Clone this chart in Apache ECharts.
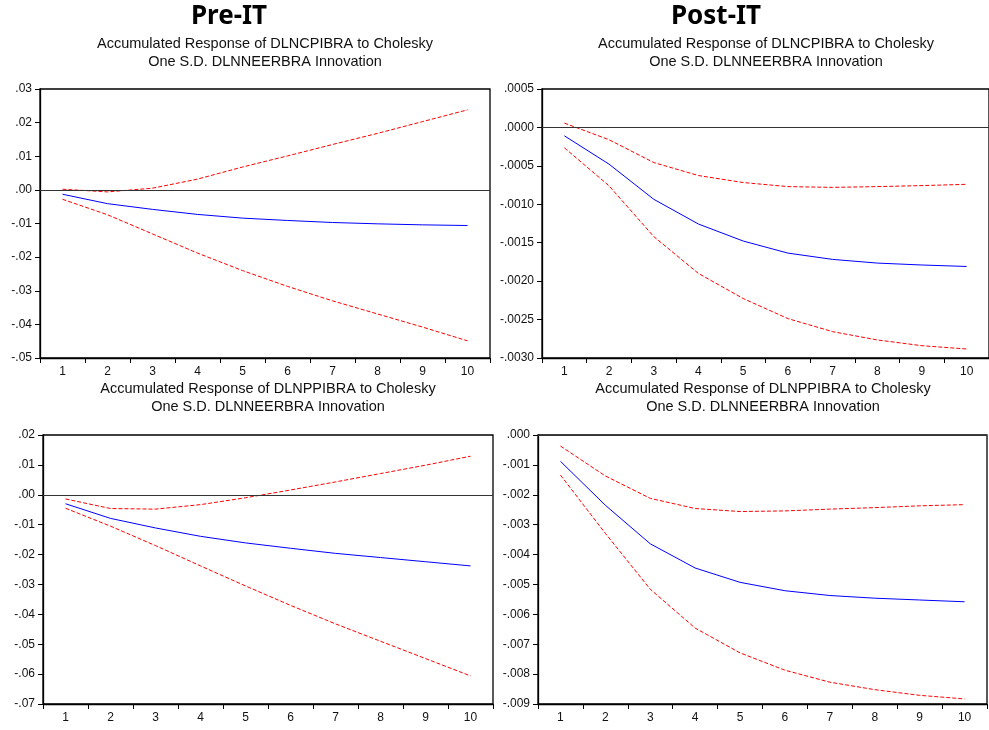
<!DOCTYPE html>
<html>
<head>
<meta charset="utf-8">
<script src="https://cdn.jsdelivr.net/npm/echarts@6/dist/echarts.min.js"></script>
<style>html,body{margin:0;padding:0;background:#fff;}#c{width:989px;height:730px;}</style>
</head>
<body>
<div id="c"></div>
<script>
const periods = ['1','2','3','4','5','6','7','8','9','10'];

// Pre-IT: Accumulated Response of DLNCPIBRA
const preCpiResp  = [-0.0013,-0.0041,-0.0058,-0.0073,-0.0084,-0.0091,-0.0097,-0.0101,-0.0104,-0.0106];
const preCpiUpper = [0.0002,-0.0006,0.0005,0.0032,0.0068,0.0101,0.0135,0.0168,0.0203,0.0238];
const preCpiLower = [-0.0028,-0.0074,-0.0131,-0.0188,-0.0240,-0.0287,-0.0330,-0.0369,-0.0408,-0.0449];

// Post-IT: Accumulated Response of DLNCPIBRA
const postCpiResp  = [-0.000109,-0.000478,-0.000935,-0.001257,-0.001478,-0.001635,-0.001717,-0.001765,-0.001790,-0.001809];
const postCpiUpper = [0.0000565,-0.00016,-0.000457,-0.000626,-0.000717,-0.00077,-0.00078,-0.00077,-0.000757,-0.00074];
const postCpiLower = [-0.000265,-0.00076,-0.00142,-0.0019,-0.002226,-0.002487,-0.002657,-0.002765,-0.00284,-0.002883];

// Pre-IT: Accumulated Response of DLNPPIBRA
const prePpiResp  = [-0.0030,-0.0079,-0.0111,-0.0139,-0.0161,-0.0179,-0.0196,-0.0210,-0.0224,-0.0238];
const prePpiUpper = [-0.0014,-0.0046,-0.0048,-0.0033,-0.0010,0.0016,0.0043,0.0071,0.0099,0.0129];
const prePpiLower = [-0.0045,-0.0105,-0.0170,-0.0238,-0.0305,-0.0370,-0.0432,-0.0490,-0.0548,-0.0606];

// Post-IT: Accumulated Response of DLNPPIBRA
const postPpiResp  = [-0.00088,-0.00235,-0.00364,-0.00445,-0.00493,-0.00521,-0.00537,-0.00546,-0.00552,-0.00558];
const postPpiUpper = [-0.00037,-0.00137,-0.00212,-0.00246,-0.00256,-0.00254,-0.00248,-0.00243,-0.00237,-0.00233];
const postPpiLower = [-0.00134,-0.00329,-0.00516,-0.00646,-0.00729,-0.00787,-0.00827,-0.00852,-0.00871,-0.00883];

const panels = [
  {left:40, top:89, width:450, height:269, min:-0.05, max:0.03, interval:0.01, dec:2, resp:preCpiResp, up:preCpiUpper, lo:preCpiLower},
  {left:542, top:89, width:447, height:269, min:-0.003, max:0.0005, interval:0.0005, dec:4, resp:postCpiResp, up:postCpiUpper, lo:postCpiLower},
  {left:43, top:435, width:450, height:269, min:-0.07, max:0.02, interval:0.01, dec:2, resp:prePpiResp, up:prePpiUpper, lo:prePpiLower},
  {left:538, top:435, width:449, height:269, min:-0.009, max:0, interval:0.001, dec:3, resp:postPpiResp, up:postPpiUpper, lo:postPpiLower}
];

function fmt(d){
  return function(v){
    if (Math.abs(v) < 1e-12) v = 0;
    let s = v.toFixed(d);
    return s.replace('0.', '.');
  };
}

const FONT = '"Liberation Sans", Arial, sans-serif';
const grid = [], xAxis = [], yAxis = [], series = [];
panels.forEach((p, i) => {
  grid.push({left:p.left, top:p.top, width:p.width, height:p.height, show:true, borderColor:'#000', borderWidth:1.3, backgroundColor:'#fff'});
  xAxis.push({type:'category', gridIndex:i, data:periods, boundaryGap:true, position:'bottom',
    axisLine:{show:true, onZero:false, lineStyle:{color:'#000', width:1.3}},
    axisTick:{show:true, length:5, lineStyle:{color:'#000'}},
    axisLabel:{color:'#111', fontSize:12, fontFamily:FONT, margin:8, interval:0},
    splitLine:{show:false}});
  yAxis.push({type:'value', gridIndex:i, min:p.min, max:p.max, interval:p.interval,
    axisLine:{show:true, onZero:false, lineStyle:{color:'#000', width:1.3}},
    axisTick:{show:true, length:5, lineStyle:{color:'#000'}},
    axisLabel:{color:'#111', fontSize:12, fontFamily:FONT, margin:8, formatter:fmt(p.dec)},
    splitLine:{show:false}});
  series.push({type:'line', xAxisIndex:i, yAxisIndex:i, data:p.resp, symbol:'none', smooth:false,
    lineStyle:{color:'#0000ff', width:1}, z:3,
    markLine:{silent:true, symbol:'none', label:{show:false}, lineStyle:{color:'#333', width:1, type:'solid'}, data:[{yAxis:0}], animation:false}});
  series.push({type:'line', xAxisIndex:i, yAxisIndex:i, data:p.up, symbol:'none', smooth:false,
    lineStyle:{color:'#ff0000', width:1, type:[4,2]}, z:3});
  series.push({type:'line', xAxisIndex:i, yAxisIndex:i, data:p.lo, symbol:'none', smooth:false,
    lineStyle:{color:'#ff0000', width:1, type:[4,2]}, z:3});
});

const subStyle = {fontSize:14.5, fontFamily:FONT, color:'#111', fontWeight:'normal', lineHeight:18};
const mainStyle = {fontSize:26, fontFamily:'"Noto Sans", "Open Sans", sans-serif', color:'#000', fontWeight:'bold'};
const title = [
  {text:'Pre-IT', left:229, top:4, textAlign:'center', textStyle:mainStyle, padding:0},
  {text:'Post-IT', left:716, top:4, textAlign:'center', textStyle:mainStyle, padding:0},
  {text:'Accumulated Response of DLNCPIBRA to Cholesky\nOne S.D. DLNNEERBRA Innovation', left:265, top:35, textAlign:'center', textStyle:subStyle, padding:0},
  {text:'Accumulated Response of DLNCPIBRA to Cholesky\nOne S.D. DLNNEERBRA Innovation', left:766, top:35, textAlign:'center', textStyle:subStyle, padding:0},
  {text:'Accumulated Response of DLNPPIBRA to Cholesky\nOne S.D. DLNNEERBRA Innovation', left:268, top:380, textAlign:'center', textStyle:subStyle, padding:0},
  {text:'Accumulated Response of DLNPPIBRA to Cholesky\nOne S.D. DLNNEERBRA Innovation', left:763, top:380, textAlign:'center', textStyle:subStyle, padding:0}
];

const chart = echarts.init(document.getElementById('c'), null, {renderer:'canvas'});
chart.setOption({animation:false, backgroundColor:'#fff', title, grid, xAxis, yAxis, series});
</script>
</body>
</html>
